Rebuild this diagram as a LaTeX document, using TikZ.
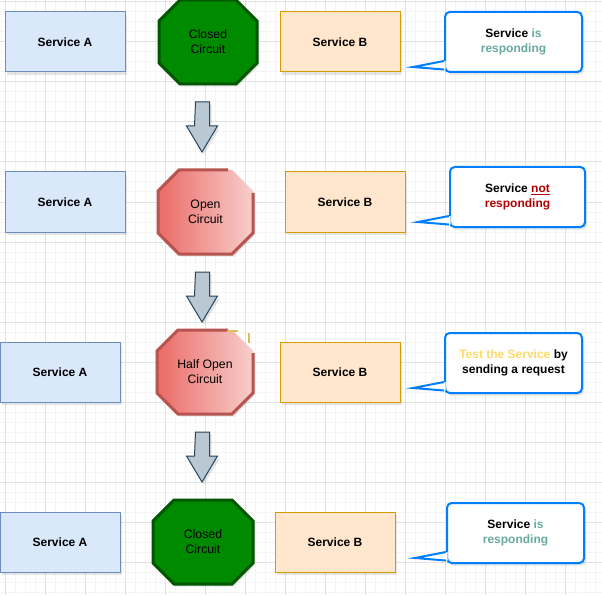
\documentclass[tikz,border=0pt]{standalone}
\usepackage{fontspec}
\setmainfont{Liberation Sans}
\usepackage{xcolor}
\usepackage{tikz}
\usetikzlibrary{shadows, positioning}

\definecolor{svcAfill}{HTML}{DAE8FC}
\definecolor{svcAline}{HTML}{6C8EBF}
\definecolor{svcBfill}{HTML}{FFE6CC}
\definecolor{svcBline}{HTML}{D79B00}
\definecolor{closedfill}{HTML}{008A00}
\definecolor{closedline}{HTML}{005700}
\definecolor{openleft}{HTML}{EA6B66}
\definecolor{openright}{HTML}{F8CECC}
\definecolor{openline}{HTML}{B85450}
\definecolor{arrowfill}{HTML}{BAC8D3}
\definecolor{arrowline}{HTML}{23445D}
\definecolor{noteline}{HTML}{007FFF}
\definecolor{okgreen}{HTML}{67AB9F}
\definecolor{badred}{HTML}{B20000}
\definecolor{testyellow}{HTML}{FFD966}
\definecolor{markyellow}{HTML}{E0BE5A}
\definecolor{gridmajor}{HTML}{E2E2E2}
\definecolor{gridminor}{HTML}{F4F4F4}

\tikzset{
  softshadow/.style={drop shadow={shadow xshift=1.5pt, shadow yshift=-2pt, opacity=0.2}},
  svca/.style={rectangle, draw=svcAline, fill=svcAfill, line width=0.75pt,
    minimum width=90pt, minimum height=45pt, font=\fontsize{9}{11}\selectfont\bfseries, softshadow},
  svcb/.style={rectangle, draw=svcBline, fill=svcBfill, line width=0.75pt,
    minimum width=90pt, minimum height=45pt, font=\fontsize{9}{11}\selectfont\bfseries, softshadow},
  closedoct/.style={draw=closedline, fill=closedfill, line width=2.25pt, line join=miter, softshadow},
  openfill/.style={left color=openleft, right color=openright, softshadow},
  openedge/.style={draw=openline, line width=2.25pt, line join=miter},
  circtext/.style={align=center, inner sep=0pt, text=black, font=\fontsize{9.2}{11.2}\selectfont},
  note/.style={rectangle, rounded corners=3.5pt, draw=noteline, fill=white, line width=1.5pt,
    minimum width=102.75pt, minimum height=45pt, align=center,
    font=\fontsize{9}{11}\selectfont\bfseries, softshadow},
  noteline/.style={draw=noteline, line width=1.5pt, line join=miter},
  blockarrow/.style={draw=arrowline, fill=arrowfill, line width=0.75pt, softshadow}
}

\begin{document}
\begin{tikzpicture}[x=0.75pt, y=-0.75pt, font=\fontsize{9}{11}\selectfont]
  \useasboundingbox (0,0) rectangle (602,595);

  % background grid
  \fill[white] (0,0) rectangle (602,595);
  \foreach \x in {5,15,...,595}
    \draw[gridminor, line width=0.75pt] (\x,0) -- (\x,595);
  \foreach \y in {2,12,...,592}
    \draw[gridminor, line width=0.75pt] (0,\y) -- (602,\y);
  \foreach \x in {5,45,...,565}
    \draw[gridmajor, line width=0.75pt] (\x,0) -- (\x,595);
  \foreach \y in {2,42,...,562}
    \draw[gridmajor, line width=0.75pt] (0,\y) -- (602,\y);

  % the octagons: closed ones (green)
  \foreach \cx/\cy/\hw in {208/42/49, 203/542/50}
    \path[closedoct] (\cx-\hw+21,\cy-42) -- (\cx+\hw-21,\cy-42) -- (\cx+\hw,\cy-21)
      -- (\cx+\hw,\cy+21) -- (\cx+\hw-21,\cy+42) -- (\cx-\hw+21,\cy+42)
      -- (\cx-\hw,\cy+21) -- (\cx-\hw,\cy-21) -- cycle;

  % open ones (red), the top right edge left unstroked
  \foreach \cx/\cy/\hw in {205.5/212/47.5, 205/372/48} {
    \path[openfill] (\cx-\hw+21,\cy-42) -- (\cx+\hw-21,\cy-42) -- (\cx+\hw,\cy-21)
      -- (\cx+\hw,\cy+21) -- (\cx+\hw-21,\cy+42) -- (\cx-\hw+21,\cy+42)
      -- (\cx-\hw,\cy+21) -- (\cx-\hw,\cy-21) -- cycle;
    \draw[openedge] (\cx+\hw,\cy-19) -- (\cx+\hw,\cy+21) -- (\cx+\hw-21,\cy+42)
      -- (\cx-\hw+21,\cy+42) -- (\cx-\hw,\cy+21) -- (\cx-\hw,\cy-21)
      -- (\cx-\hw+21,\cy-42) -- (\cx+\hw-25,\cy-42);
  }

  % row 1: closed
  \node[svca] (srva1) at (65,42) {Service A};
  \node[circtext] (circ1) at (208,42) {Closed\\Circuit};
  \node[svcb] (srvb1) at (340,42) {Service B};
  \node[note] (note1) at (513.5,42) {Service \textcolor{okgreen}{is}\\\textcolor{okgreen}{responding}};
  \coordinate (tip1) at (413,67);

  % row 2: open
  \node[svca] (srva2) at (65,202) {Service A};
  \node[circtext] (circ2) at (205.5,212) {Open\\Circuit};
  \node[svcb] (srvb2) at (345,202) {Service B};
  \node[note, minimum width=101.25pt] (note2) at (517.5,197)
    {Service \textcolor{badred}{\underline{not}}\\\textcolor{badred}{responding}};
  \coordinate (tip2) at (418,222);

  % row 3: half open
  \node[svca] (srva3) at (60,372) {Service A};
  \node[circtext] (circ3) at (205,372) {Half Open\\Circuit};
  \node[svcb] (srvb3) at (340,372) {Service B};
  \node[note] (note3) at (513.5,363)
    {\textcolor{testyellow}{Test the Service} by\\sending a request};
  \coordinate (tip3) at (413,388);
  \draw[markyellow, line width=1.9pt] (227,331) -- (238,331);
  \draw[markyellow, line width=1.9pt] (249,333) -- (249,343);

  % row 4: closed again
  \node[svca] (srva4) at (60,542) {Service A};
  \node[circtext] (circ4) at (203,542) {Closed\\Circuit};
  \node[svcb] (srvb4) at (335,542) {Service B};
  \node[note] (note4) at (515.5,533) {Service \textcolor{okgreen}{is}\\\textcolor{okgreen}{responding}};
  \coordinate (tip4) at (415,558);

  % callout tails
  \foreach \n in {1,...,4} {
    \fill[white] ([xshift=1.3pt, yshift=9pt]note\n.south west) -- (tip\n)
      -- ([xshift=1.3pt, yshift=2.6pt]note\n.south west) -- cycle;
    \draw[noteline] ([yshift=9pt]note\n.south west) -- (tip\n)
      -- ([yshift=2.6pt]note\n.south west);
  }

  % block arrows between the states
  \foreach \y in {102,272,432}
    \path[blockarrow] (195.5,\y) -- ++(14,0) -- ++(0,24) -- ++(8,0) -- ++(-15.5,26)
      -- ++(-15.5,-26) -- ++(8,0) -- cycle;
\end{tikzpicture}
\end{document}
